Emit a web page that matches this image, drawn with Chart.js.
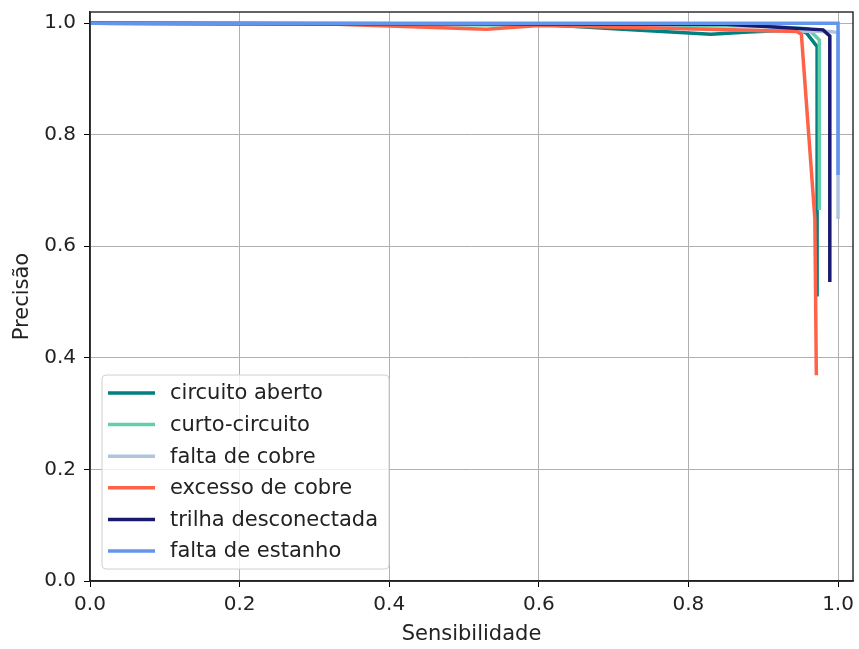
<!DOCTYPE html>
<html>
<head>
<meta charset="utf-8">
<script src="https://cdn.jsdelivr.net/npm/chart.js@4/dist/chart.umd.min.js"></script>
<style>
  html, body { margin: 0; padding: 0; background: #fff; }
  #wrap { width: 859px; height: 649px; }
</style>
</head>
<body>
<div id="wrap"><canvas id="pr-chart" width="859" height="649"></canvas></div>
<script>
// --- DATA ---
const seriesNames = ['circuito aberto', 'curto-circuito', 'falta de cobre', 'excesso de cobre', 'trilha desconectada', 'falta de estanho'];
const seriesColors = ['#008080', '#66CDAA', '#B0C4DE', '#FF6347', '#191970', '#6495ED'];

const abertoRecall = [0, 0.6, 0.7, 0.83, 0.88, 0.95, 0.958, 0.972, 0.972];
const abertoPrec   = [1.0, 0.998, 0.99, 0.98, 0.984, 0.988, 0.982, 0.958, 0.51];

const curtoRecall = [0, 0.9, 0.96, 0.975, 0.975];
const curtoPrec   = [1.0, 0.995, 0.99, 0.97, 0.665];

const faltaCobreRecall = [0, 0.6, 0.8, 0.93, 0.99, 1.0, 1.0];
const faltaCobrePrec   = [1.0, 0.998, 0.99, 0.986, 0.985, 0.983, 0.649];

const excessoRecall = [0, 0.33, 0.53, 0.6, 0.8, 0.945, 0.951, 0.969, 0.971];
const excessoPrec   = [1.0, 0.998, 0.989, 0.996, 0.99, 0.985, 0.98, 0.65, 0.369];

const trilhaRecall = [0, 0.85, 0.98, 0.989, 0.989];
const trilhaPrec   = [1.0, 0.998, 0.988, 0.977, 0.536];

const estanhoRecall = [0, 1.0, 1.0];
const estanhoPrec   = [1.0, 1.0, 0.728];

const tickValues = [0, 0.2, 0.4, 0.6, 0.8, 1.0];

const recalls = [abertoRecall, curtoRecall, faltaCobreRecall, excessoRecall, trilhaRecall, estanhoRecall];
const precisions = [abertoPrec, curtoPrec, faltaCobrePrec, excessoPrec, trilhaPrec, estanhoPrec];

const FONT = 'DejaVu Sans';

// legend drawn inside the plot, lower left (matplotlib style)
const innerLegend = {
    id: 'innerLegend',
    afterDraw(chart) {
        const ctx = chart.ctx;
        const area = chart.chartArea;

        // axes frame on top
        ctx.save();
        ctx.strokeStyle = '#222';
        ctx.lineWidth = 1.4;
        ctx.strokeRect(area.left, area.top, area.right - area.left, area.bottom - area.top);
        ctx.restore();

        const w = 287, h = 194;
        const x0 = area.left + 12;
        const y0 = area.bottom - 12 - h;
        ctx.save();
        ctx.beginPath();
        ctx.roundRect(x0, y0, w, h, 4);
        ctx.fillStyle = 'rgba(255,255,255,0.8)';
        ctx.fill();
        ctx.strokeStyle = '#d0d0d0';
        ctx.lineWidth = 1;
        ctx.stroke();

        ctx.font = '21px "' + FONT + '"';
        ctx.textBaseline = 'middle';
        ctx.fillStyle = '#222';
        seriesNames.forEach((name, i) => {
            const cy = y0 + 18 + i * 31.6;
            ctx.beginPath();
            ctx.moveTo(x0 + 6, cy);
            ctx.lineTo(x0 + 53, cy);
            ctx.strokeStyle = seriesColors[i];
            ctx.lineWidth = 3.5;
            ctx.stroke();
            ctx.fillText(name, x0 + 68, cy + 1);
        });
        ctx.restore();
    }
};

const datasets = seriesNames.map((name, i) => ({
    label: name,
    data: recalls[i].map((r, j) => ({ x: r, y: precisions[i][j] })),
    borderColor: seriesColors[i],
    backgroundColor: seriesColors[i],
    borderWidth: 3.5,
    pointRadius: 0,
    tension: 0,
    fill: false,
    order: seriesNames.length - i
}));

const fixTicks = (scale) => {
    scale.ticks = tickValues.map(v => ({ value: v }));
};

new Chart(document.getElementById('pr-chart'), {
    type: 'line',
    data: { datasets: datasets },
    options: {
        responsive: false,
        animation: false,
        layout: { padding: { left: 0, top: 12, right: 6, bottom: 0 } },
        plugins: {
            legend: { display: false },
            tooltip: { enabled: false }
        },
        scales: {
            x: {
                type: 'linear',
                min: 0,
                max: 1.02,
                afterBuildTicks: fixTicks,
                afterFit: (scale) => {
                    scale.height = 68;
                    scale.paddingLeft = 0;
                    scale.paddingRight = 0;
                },
                grid: { color: '#b0b0b0', lineWidth: 1, tickColor: '#000', tickLength: 6 },
                border: { color: '#222', width: 1.4 },
                ticks: {
                    font: { family: FONT, size: 20 },
                    color: '#222',
                    padding: 6,
                    maxRotation: 0,
                    callback: (v) => v.toFixed(1)
                },
                title: {
                    display: true,
                    text: 'Sensibilidade',
                    font: { family: FONT, size: 21 },
                    color: '#222',
                    padding: { top: 0, bottom: 2 }
                }
            },
            y: {
                type: 'linear',
                min: 0,
                max: 1.02,
                afterBuildTicks: fixTicks,
                afterFit: (scale) => {
                    scale.width = 90;
                    scale.paddingTop = 0;
                    scale.paddingBottom = 0;
                },
                grid: { color: '#b0b0b0', lineWidth: 1, tickColor: '#000', tickLength: 6 },
                border: { color: '#222', width: 1.4 },
                ticks: {
                    font: { family: FONT, size: 20 },
                    color: '#222',
                    padding: 8,
                    callback: (v) => v.toFixed(1)
                },
                title: {
                    display: true,
                    text: 'Precisão',
                    font: { family: FONT, size: 21 },
                    color: '#222',
                    padding: { top: 10, bottom: 0 }
                }
            }
        }
    },
    plugins: [innerLegend]
});
</script>
</body>
</html>
